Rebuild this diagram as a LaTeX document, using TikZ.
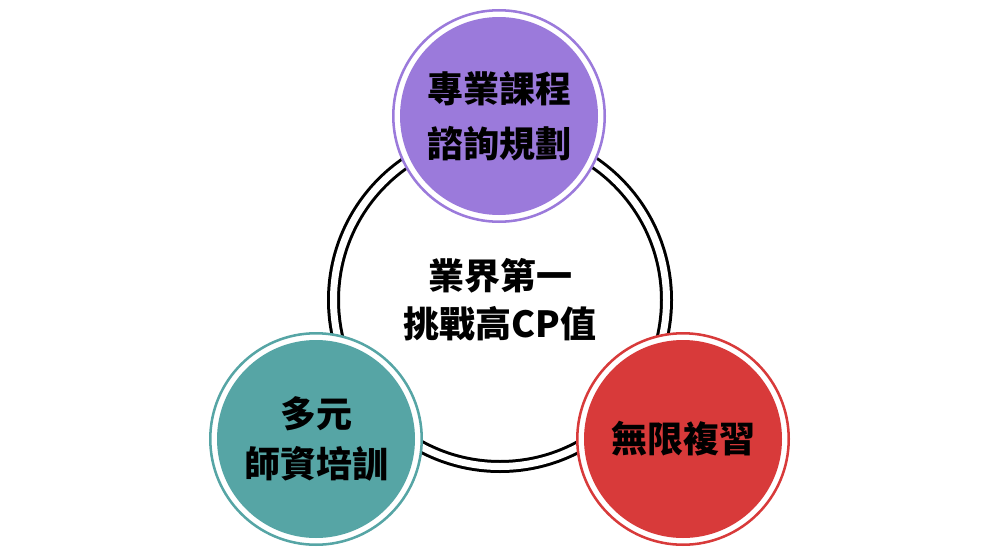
\documentclass[tikz,border=0pt]{standalone}
\usepackage{fontspec}
\newfontfamily\cjk{Noto Sans CJK TC}
\usepackage{tikz}
\usetikzlibrary{positioning}
\definecolor{bubblepurple}{HTML}{9B7ADB}
\definecolor{bubbleteal}{HTML}{56A5A5}
\definecolor{bubblered}{HTML}{D83A3A}

\begin{document}
\begin{tikzpicture}[x=0.75pt,y=-0.75pt,
  label font/.style={font=\cjk\bfseries\fontsize{27}{#1}\selectfont},
  bubble/.style={circle,draw=#1,line width=1.9pt,fill=white,minimum size=158.6pt,inner sep=0pt,align=center,
    path picture={\fill[#1] (path picture bounding box.center) circle[radius=74.25pt];}}]
  \useasboundingbox (0,0) rectangle (1000,553);
  \node[circle,draw=black,line width=2.25pt,double=white,double distance=5.25pt,minimum size=249.75pt,
    inner sep=0pt,align=center,label font=36] (hub) at (500,300) {業界第一\\挑戰高CP值};
  \node[bubble=bubblepurple,label font=41] (plan) at (499,116) {專業課程\\諮詢規劃};
  \node[bubble=bubbleteal,label font=37.5] (teacher) at (316,439) {多元\\師資培訓};
  \node[bubble=bubblered,label font=37.5] (review) at (683,439) {無限複習};
\end{tikzpicture}
\end{document}
